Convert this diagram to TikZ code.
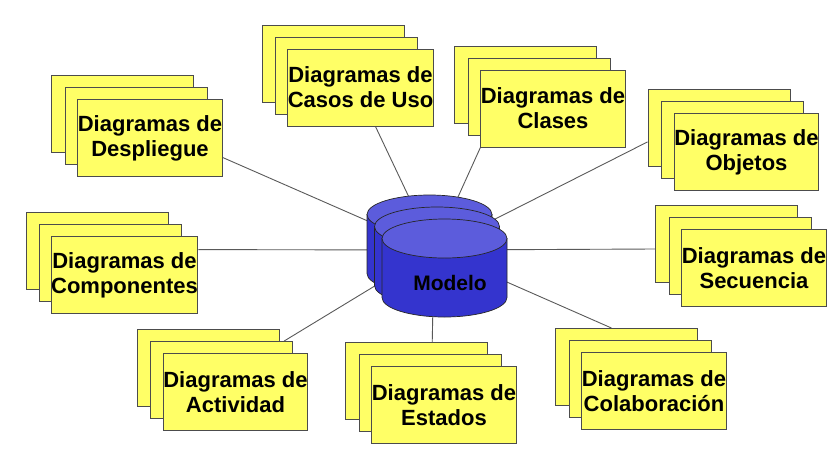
\documentclass[tikz,border=0pt]{standalone}
\usepackage{fontspec}
\setmainfont{Liberation Sans}
\usepackage{tikz}
\usetikzlibrary{backgrounds}
\definecolor{amarillo}{RGB}{255,255,102}
\definecolor{azul}{RGB}{52,52,206}
\definecolor{azulclaro}{RGB}{92,92,220}
\tikzset{
  caja/.style={draw=black!70, fill=amarillo, line width=0.9pt, minimum width=142pt,
    minimum height=77pt, inner sep=0pt, align=center, font=\bfseries\fontsize{22}{25}\selectfont},
  conector/.style={draw=black!65, line width=0.9pt},
  cuerpo/.style={draw=black!85, line width=0.7pt, fill=azul},
  tapa/.style={draw=black!85, line width=0.7pt, fill=azulclaro},
  rotulo/.style={font=\bfseries\fontsize{21}{22}\selectfont}
}

\begin{document}
\begin{tikzpicture}[x=1pt, y=-1pt]
  \useasboundingbox (0,0) rectangle (828,451);
  \coordinate (centro) at (434,250);
  % pilas de diagramas: atras, medio, delante
  \foreach \nombre/\x/\y/\txt in {
      desp/150/138/{Diagramas de\\Despliegue},
      casos/360.5/87.5/{Diagramas de\\Casos de Uso},
      clases/553/108.5/{Diagramas de\\Clases},
      objetos/746.5/152/{Diagramas de\\Objetos},
      componentes/124.5/275/{Diagramas de\\Componentes},
      secuencia/754/268/{Diagramas de\\Secuencia},
      actividad/235.5/392/{Diagramas de\\Actividad},
      estados/444/405/{Diagramas de\\Estados},
      colaboracion/654/391/{Diagramas de\\Colaboración}} {
    \node[caja] (\nombre3) at (\x-27.5,\y-24) {};
    \node[caja] (\nombre2) at (\x-13.75,\y-12) {};
    \node[caja] (\nombre) at (\x,\y) {\txt};
  }
  % el modelo
  \foreach \dx/\dy in {-15/-24, -7.5/-12, 0/0} {
    \draw[cuerpo] (382+\dx,238.5+\dy) -- (382+\dx,297.5+\dy)
      arc[start angle=180, end angle=360, x radius=62.5pt, y radius=19.5pt]
      -- (507+\dx,238.5+\dy) -- cycle;
    \draw[tapa] (444.5+\dx,238.5+\dy) ellipse [x radius=62.5pt, y radius=19.5pt];
  }
  \node[rotulo] (modelo) at (450,283) {Modelo};
  \begin{pgfonlayer}{background}
    \draw[conector] (centro) -- (desp.-15);
    \draw[conector] (centro) -- (casos.-69);
    \draw[conector] (centro) -- (clases.south west);
    \draw[conector] (centro) -- (objetos3.191);
    \draw[conector] (centro) -- (componentes.19);
    \draw[conector] (centro) -- (secuencia3.184);
    \draw[conector] (centro) -- (actividad2.32);
    \draw[conector] (centro) -- (estados3.68);
    \draw[conector] (centro) -- (colaboracion3.111);
  \end{pgfonlayer}
\end{tikzpicture}
\end{document}
